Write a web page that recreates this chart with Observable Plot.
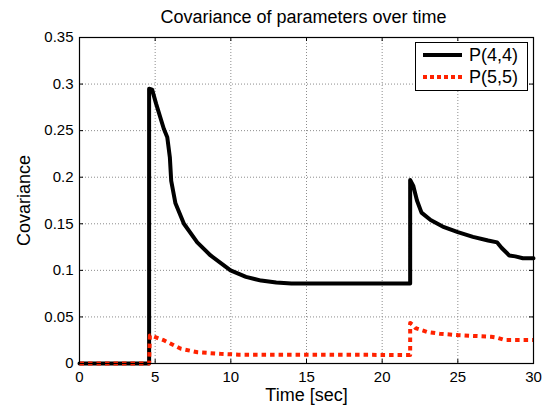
<!DOCTYPE html>
<html>
<head>
<meta charset="utf-8">
<script src="https://cdn.jsdelivr.net/npm/d3@7"></script>
<script src="https://cdn.jsdelivr.net/npm/@observablehq/plot@0.6"></script>
<style>
  html, body { margin: 0; padding: 0; background: #fff; }
  #wrap { position: relative; width: 545px; height: 407px; overflow: hidden; font-family: "Liberation Sans", Arial, sans-serif; background: #fff; }
  #title { position: absolute; z-index: 2; left: 62px; width: 483px; top: 7px; text-align: center; font-size: 18px; color: #000; line-height: normal; }
  #legend { position: absolute; z-index: 2; left: 415px; top: 42px; width: 113px; height: 49px; border: 1px solid #000; background: #fff; box-sizing: border-box; }
  #legend .row { position: absolute; left: 7px; height: 22px; display: flex; align-items: center; font-size: 18px; color: #000; }
  #legend svg { margin-right: 7px; }
  #chart { position: absolute; z-index: 1; left: 0; top: 15px; }
  #chart [aria-label="x-axis label"], #chart [aria-label="y-axis label"] { font-size: 18px; }
</style>
</head>
<body>
<div id="wrap">
  <div id="chart"></div>
  <div id="title">Covariance of parameters over time</div>
  <div id="legend"></div>
</div>
<script>
// Data
const tP44 = [0, 4.6, 4.6, 4.8, 5.06, 5.57, 5.8, 5.97, 6.06, 6.34, 6.9, 7.78, 8.66, 9.98, 11, 12, 13, 14, 21.85, 21.85, 22.05, 22.3, 22.6, 23.2, 24, 25, 26, 27, 27.6, 27.9, 28.4, 28.8, 29.3, 30];
const vP44 = [0, 0, 0.295, 0.294, 0.279, 0.252, 0.243, 0.2215, 0.196, 0.172, 0.15, 0.13, 0.116, 0.1, 0.093, 0.089, 0.087, 0.086, 0.086, 0.197, 0.191, 0.175, 0.162, 0.154, 0.147, 0.141, 0.136, 0.132, 0.130, 0.124, 0.116, 0.115, 0.113, 0.113];
const tP55 = [0, 4.6, 4.65, 4.9, 5.6, 6.7, 7.8, 9.3, 10.5, 21.85, 21.85, 22.05, 22.2, 22.95, 23.8, 25, 26.3, 27.2, 27.6, 28.1, 30];
const vP55 = [0, 0, 0.03, 0.029, 0.0247, 0.0158, 0.0121, 0.0104, 0.0095, 0.0092, 0.0436, 0.041, 0.038, 0.034, 0.032, 0.0305, 0.0294, 0.0287, 0.0277, 0.0252, 0.0252];
const seriesNames = ["P(4,4)", "P(5,5)"];
const xTicks = [0, 5, 10, 15, 20, 25, 30];
const yTicks = [0, 0.05, 0.1, 0.15, 0.2, 0.25, 0.3, 0.35];
const yTickLabels = ["0", "0.05", "0.1", "0.15", "0.2", "0.25", "0.3", "0.35"];

const p44 = tP44.map((t, i) => ({t, v: vP44[i]}));
const p55 = tP55.map((t, i) => ({t, v: vP55[i]}));

const W = 545, H = 392;
const mT = 22, mB = 44, mL = 79, mR = 12;
const innerH = H - mT - mB;
const innerW = W - mL - mR;
const tick = 4;
const red = "#ff2200";

const chart = Plot.plot({
  width: W, height: H,
  marginTop: mT, marginBottom: mB, marginLeft: mL, marginRight: mR,
  style: {fontFamily: "'Liberation Sans', Arial, sans-serif", fontSize: "15px", color: "#000", background: "transparent"},
  x: {domain: [0, 30]},
  y: {domain: [0, 0.35]},
  marks: [
    Plot.gridX(xTicks.slice(1, -1), {stroke: "#8c8c8c", strokeOpacity: 1, strokeDasharray: "1,2"}),
    Plot.gridY(yTicks.slice(1, -1), {stroke: "#8c8c8c", strokeOpacity: 1, strokeDasharray: "1,2"}),
    Plot.line(p44, {x: "t", y: "v", stroke: "#000", strokeWidth: 4, strokeLinejoin: "round"}),
    Plot.line(p55, {x: "t", y: "v", stroke: red, strokeWidth: 4, strokeDasharray: "4.5,4", strokeLinecap: "butt"}),
    // inward ticks on all four sides
    Plot.tickX(xTicks, {x: d => d, insetTop: innerH - tick, stroke: "#000"}),
    Plot.tickX(xTicks, {x: d => d, insetBottom: innerH - tick, stroke: "#000"}),
    Plot.tickY(yTicks, {y: d => d, insetRight: innerW - tick, stroke: "#000"}),
    Plot.tickY(yTicks, {y: d => d, insetLeft: innerW - tick, stroke: "#000"}),
    Plot.frame({stroke: "#000", strokeWidth: 1.2}),
    Plot.axisX(xTicks, {anchor: "bottom", tickSize: 0, tickPadding: 8, tickFormat: d => String(d), fontSize: 15,
      label: "Time [sec]", labelAnchor: "center", labelOffset: 37, labelArrow: "none"}),
    Plot.axisY(yTicks, {anchor: "left", tickSize: 0, tickPadding: 6, tickFormat: d => yTickLabels[yTicks.indexOf(d)], fontSize: 15,
      label: "Covariance", labelAnchor: "center", labelOffset: 62, labelArrow: "none"})
  ]
});
document.getElementById("chart").appendChild(chart);

// Legend
const legend = document.getElementById("legend");
const styles = [
  {stroke: "#000", dash: null},
  {stroke: red, dash: "4,3"}
];
seriesNames.forEach((name, i) => {
  const row = document.createElement("div");
  row.className = "row";
  row.style.top = (1 + i * 22) + "px";
  const ns = "http://www.w3.org/2000/svg";
  const s = document.createElementNS(ns, "svg");
  s.setAttribute("width", 39); s.setAttribute("height", 8);
  const l = document.createElementNS(ns, "line");
  l.setAttribute("x1", 0); l.setAttribute("x2", 39); l.setAttribute("y1", 4); l.setAttribute("y2", 4);
  l.setAttribute("stroke", styles[i].stroke); l.setAttribute("stroke-width", 4);
  if (styles[i].dash) l.setAttribute("stroke-dasharray", styles[i].dash);
  s.appendChild(l);
  row.appendChild(s);
  const t = document.createElement("span");
  t.textContent = name;
  row.appendChild(t);
  legend.appendChild(row);
});
</script>
</body>
</html>
